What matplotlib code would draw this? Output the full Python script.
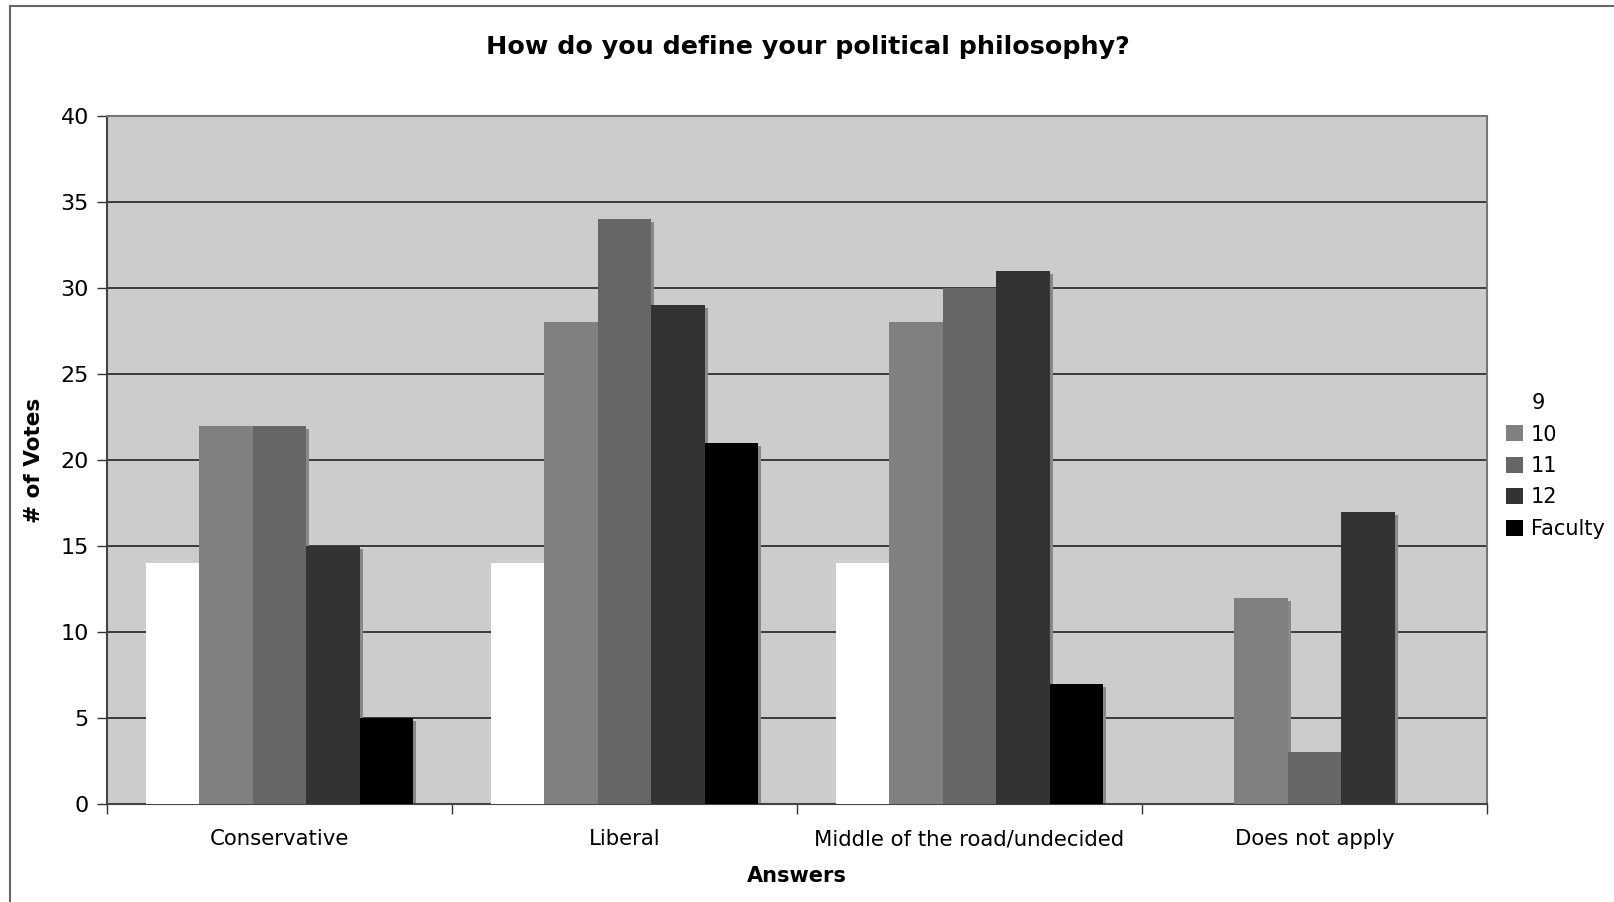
import numpy as np
import matplotlib.pyplot as plt
from matplotlib.lines import Line2D

categories = ["Conservative", "Liberal", "Middle of the road/undecided", "Does not apply"]
series_names = ["9", "10", "11", "12", "Faculty"]
votes_9 = [14, 14, 14, 0]
votes_10 = [22, 28, 28, 12]
votes_11 = [22, 34, 30, 3]
votes_12 = [15, 29, 31, 17]
votes_faculty = [5, 21, 7, 0]
colors = ["#ffffff", "#808080", "#666666", "#333333", "#000000"]

all_votes = [votes_9, votes_10, votes_11, votes_12, votes_faculty]

plt.rcParams['font.family'] = 'DejaVu Sans'

fig = plt.figure(figsize=(16.15, 9.02), dpi=100)
ax = fig.add_axes([0.0663, 0.1086, 0.8544, 0.7628])
ax.set_facecolor("#cccccc")

x = np.arange(len(categories))
width = 0.155
# shadow offset in data units (~3 px)
dx = 3 / (0.8544 * 1615) * 4
dy = 3 / (0.7628 * 902) * 40

for i, (name, vals) in enumerate(zip(series_names, all_votes)):
    pos = x + (i - 2) * width
    vals = np.array(vals, dtype=float)
    shadow = np.where(vals > 0, vals - dy, 0)
    ax.bar(pos + dx, shadow, width, color="#888888", zorder=2, linewidth=0)
    ax.bar(pos, vals, width, color=colors[i], zorder=3, linewidth=0, label=name)

ax.set_xlim(-0.5, len(categories) - 0.5)
ax.set_ylim(0, 40)
ax.set_yticks(range(0, 41, 5))
ax.set_xticks(x)
ax.set_xticklabels(categories, fontsize=15.3)
ax.xaxis.set_minor_locator(plt.FixedLocator(np.arange(-0.5, len(categories), 1)))
ax.tick_params(axis='x', which='major', length=0, pad=18)
ax.tick_params(axis='x', which='minor', length=7, width=1, color="#333333", direction='out')
ax.tick_params(axis='y', labelsize=16, length=7, width=1, color="#333333", pad=6)
ax.yaxis.grid(True, color="#222222", linewidth=1.2, zorder=1)
ax.set_axisbelow(True)
for side in ["left", "bottom"]:
    ax.spines[side].set_color("#444444")
    ax.spines[side].set_linewidth(1.5)
for side in ["top", "right"]:
    ax.spines[side].set_color("#777777")
    ax.spines[side].set_linewidth(1.5)

ax.set_ylabel("# of Votes", fontsize=15.5, fontweight='bold', labelpad=12)
ax.set_xlabel("Answers", fontsize=15, fontweight='bold', labelpad=12)
fig.text(0.5, 0.948, "How do you define your political philosophy?",
         fontsize=18.3, fontweight='bold', ha='center', va='center')

handles, labels = ax.get_legend_handles_labels()
leg = fig.legend(handles, labels, loc='upper left', bbox_to_anchor=(0.921, 0.585),
                 frameon=False, fontsize=15, handlelength=0.8, handleheight=0.8,
                 handletextpad=0.4, labelspacing=0.55)

# outer chart border (left and top visible)
fig.add_artist(Line2D([10 / 1615, 10 / 1615], [0, 1 - 6 / 902], color="#666666", linewidth=1.5))
fig.add_artist(Line2D([10 / 1615, 1], [1 - 6 / 902, 1 - 6 / 902], color="#666666", linewidth=1.5))

fig.savefig("out.png", dpi=100, facecolor="white")
